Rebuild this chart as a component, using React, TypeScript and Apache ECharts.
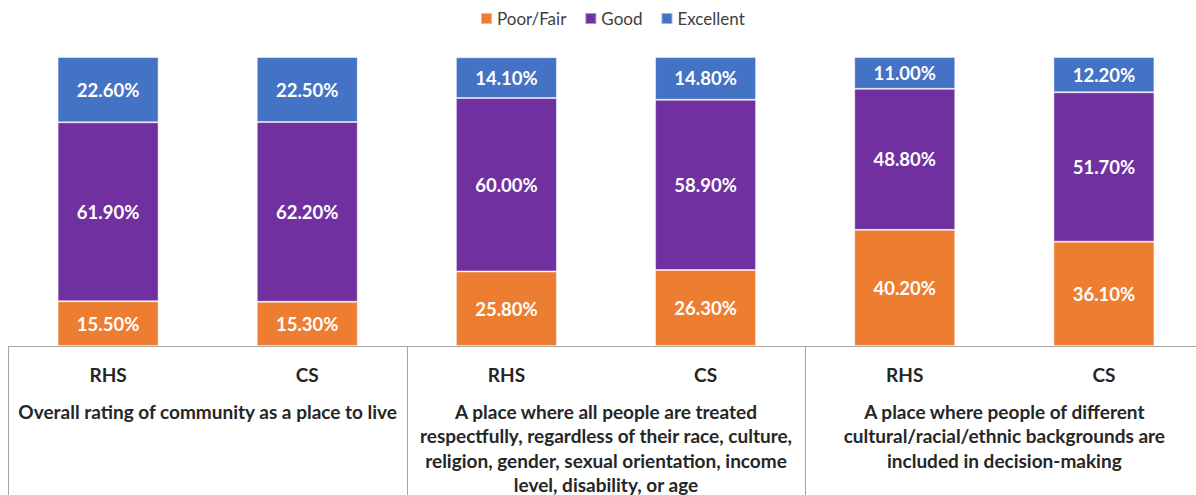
import React, { useEffect, useRef } from "react";
import * as echarts from "echarts";

const barLabels = ["RHS", "CS", "RHS", "CS", "RHS", "CS"];
const groupLabels = [
  "Overall rating of community as a place to live",
  "A place where all people are treated\nrespectfully, regardless of their race, culture,\nreligion, gender, sexual orientation, income\nlevel, disability, or age",
  "A place where people of different\ncultural/racial/ethnic backgrounds are\nincluded in decision-making",
];
const poorFair = [15.5, 15.3, 25.8, 26.3, 40.2, 36.1];
const good = [61.9, 62.2, 60.0, 58.9, 48.8, 51.7];
const excellent = [22.6, 22.5, 14.1, 14.8, 11.0, 12.2];

const FONT = "Lato, 'Noto Sans', sans-serif";

export default function App() {
  const ref = useRef<HTMLDivElement>(null);
  useEffect(() => {
    if (!ref.current) return;
    const chart = echarts.init(ref.current, null, { renderer: "svg" });
    const mkSeries = (name: string, data: number[], color: string) => ({
      name,
      type: "bar",
      stack: "total",
      data,
      barWidth: 101,
      itemStyle: { color, borderColor: "rgba(255,255,255,0.45)", borderWidth: 1 },
      label: {
        show: true,
        position: "inside",
        color: "#ffffff",
        fontFamily: FONT,
        fontWeight: "bold",
        fontSize: 18.5,
        formatter: (p: any) => Number(p.value).toFixed(2) + "%",
      },
    });
    chart.setOption({
      animation: false,
      textStyle: { fontFamily: FONT },
      legend: {
        top: 10,
        left: 480,
        padding: 0,
        icon: "rect",
        itemWidth: 11,
        itemHeight: 11,
        itemGap: 18,
        textStyle: { color: "#404040", fontSize: 17, fontFamily: FONT },
        data: ["Poor/Fair", "Good", "Excellent"],
      },
      grid: {
        left: 8.5,
        top: 57,
        width: 1195,
        height: 289,
        containLabel: false,
        outerBoundsMode: "none",
      },
      xAxis: [
        {
          type: "category",
          data: barLabels,
          position: "bottom",
          axisLine: { show: false },
          axisTick: { show: false },
          axisLabel: {
            color: "#262626",
            fontWeight: "bold",
            fontSize: 19,
            fontFamily: FONT,
            margin: 19,
          },
        },
        {
          type: "category",
          data: groupLabels,
          position: "bottom",
          axisLine: { show: true, lineStyle: { color: "#a6a6a6", width: 1 } },
          axisTick: {
            show: true,
            interval: 0,
            length: 160,
            lineStyle: { color: "#a6a6a6", width: 1 },
          },
          axisLabel: {
            interval: 0,
            color: "#262626",
            fontWeight: "bold",
            fontSize: 19,
            fontFamily: FONT,
            lineHeight: 24.4,
            margin: 53,
            align: "center",
          },
        },
      ],
      yAxis: { type: "value", min: 0, max: 100, show: false },
      series: [
        mkSeries("Poor/Fair", poorFair, "#ED7D31"),
        mkSeries("Good", good, "#7030A0"),
        mkSeries("Excellent", excellent, "#4472C4"),
      ],
    });
    return () => chart.dispose();
  }, []);
  return (
    <div
      ref={ref}
      style={{ position: "fixed", left: 0, top: 0, width: 1196, height: 495, background: "#fff" }}
    />
  );
}
